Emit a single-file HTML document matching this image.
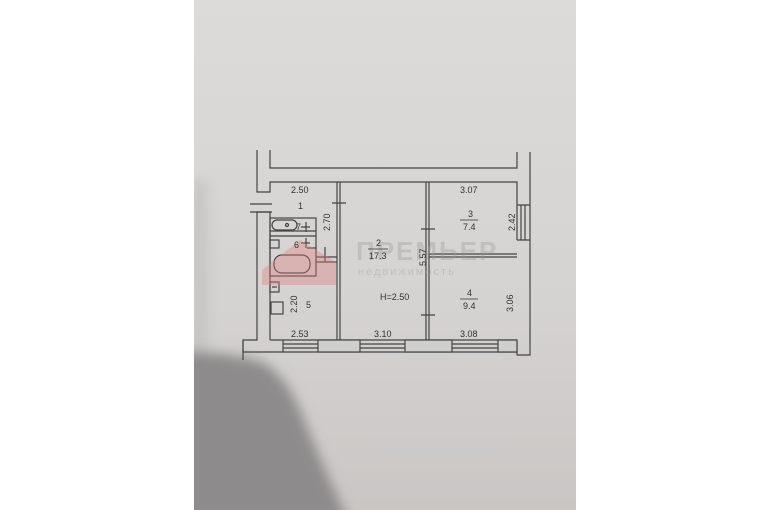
<!DOCTYPE html>
<html><head><meta charset="utf-8"><style>
html,body{margin:0;padding:0;background:#fff;}
svg{display:block}
text{font-family:"Liberation Sans",sans-serif;fill:#333;font-size:9px}
</style></head><body>
<svg width="770" height="510" viewBox="0 0 770 510">
<defs>
<linearGradient id="pg" x1="0" y1="0" x2="0" y2="1">
<stop offset="0" stop-color="#dcdbd9"/><stop offset="0.6" stop-color="#d5d3d1"/><stop offset="1" stop-color="#c9c6c4"/>
</linearGradient>
<linearGradient id="lg" x1="0" y1="0" x2="1" y2="0">
<stop offset="0" stop-color="#b8b7b6"/><stop offset="1" stop-color="#d6d5d3" stop-opacity="0"/>
</linearGradient>
<filter id="bl" x="-20%" y="-20%" width="140%" height="140%"><feGaussianBlur stdDeviation="6"/></filter>
<clipPath id="pc"><rect x="194" y="0" width="382" height="510"/></clipPath>
</defs>
<rect x="0" y="0" width="770" height="510" fill="#fff"/>
<rect x="194" y="0" width="382" height="510" fill="url(#pg)"/>
<g clip-path="url(#pc)">
<rect x="194" y="180" width="25" height="200" fill="url(#lg)" filter="url(#bl)"/>
<path d="M180 352 Q230 352 262 362 Q285 375 300 410 Q320 460 348 520 L180 520 Z" fill="#8d8b8b" filter="url(#bl)"/>
</g>
<g stroke="#444" stroke-width="1.2" fill="none">
<path d="M257 150 V192 H270 V182 H517 V205 H530 V152"/>
<path d="M270 150 V168 H517 V152"/>
<path d="M517 205 V240 M530 205 V240 M517 240 H530 V355 H517 V340"/>
<path d="M521 205 V240 M525 205 V240"/>
<path d="M243 352 V340 H257 V212 H270 V340"/>
<path d="M243 340 V360 M243 352 H283 V340 H270"/>
<path d="M250 212 H272 M250 204 H272"/>
<path d="M283 340 H517 M283 352 H517"/>
<rect x="318" y="340" width="42" height="12" fill="#cfcfcd"/>
<rect x="405" y="340" width="47" height="12" fill="#cfcfcd"/>
<rect x="498" y="340" width="19" height="12" fill="#cfcfcd"/>
<path d="M283 344 H318 M283 348 H318 M360 344 H405 M360 348 H405 M452 344 H498 M452 348 H498"/>
<path d="M337 182 V340 M340 182 V340"/>
<path d="M426 182 V340 M429 182 V340"/>
<path d="M429 254 H517 M429 257 H517"/>
<path d="M332 203 H346 M421 229 H435 M421 315 H435 M307 248 H316 M325 247 V262 M316 257 H337 M316 262 H337"/>
<rect x="270" y="218" width="46" height="58"/>
<path d="M270 231 H316 M270 236 H316"/>
<rect x="272" y="220" width="25" height="10" rx="5"/>
<circle cx="287" cy="225" r="1.5"/>
<rect x="270" y="240" width="9" height="8"/>
<rect x="274" y="255" width="36" height="18" rx="8"/>
<rect x="270" y="282" width="9" height="10"/>
<rect x="271" y="302" width="12" height="12"/>
<path d="M301 227 H310 M306 222 V232 M301 243 H310 M306 238 V248 M272 287 H277"/>
</g>
<g opacity="0.35">
<path d="M262 270 L300 240 L336 262 V285 H262 Z" fill="#e07878"/>
<text x="356" y="260" style="font-size:26px;fill:#999;letter-spacing:2px;font-weight:bold">ПРЕМЬЕР</text>
<text x="358" y="275" style="font-size:11px;fill:#999;letter-spacing:2px">недвижимость</text>
</g>
<text x="291" y="193">2.50</text>
<text x="298" y="209">1</text>
<text x="296" y="230">7</text>
<text x="294" y="248">6</text>
<text x="306" y="308">5</text>
<text x="291" y="337">2.53</text>
<text x="374" y="337">3.10</text>
<text x="460" y="337">3.08</text>
<text x="460" y="193">3.07</text>
<text x="468" y="217">3</text>
<line x1="460" y1="220" x2="478" y2="220" stroke="#333" stroke-width="0.8"/>
<text x="463" y="230">7.4</text>
<text x="376" y="246">2</text>
<line x1="368" y1="249" x2="388" y2="249" stroke="#333" stroke-width="0.8"/>
<text x="369" y="259">17.3</text>
<text x="380" y="300">H=2.50</text>
<text x="467" y="296">4</text>
<line x1="460" y1="299" x2="478" y2="299" stroke="#333" stroke-width="0.8"/>
<text x="463" y="309">9.4</text>
<text transform="translate(330,231) rotate(-90)">2.70</text>
<text transform="translate(426,266) rotate(-90)">5.57</text>
<text transform="translate(515,231) rotate(-90)">2.42</text>
<text transform="translate(513,312) rotate(-90)">3.06</text>
<text transform="translate(297,313) rotate(-90)">2.20</text>
</svg>
</body></html>
